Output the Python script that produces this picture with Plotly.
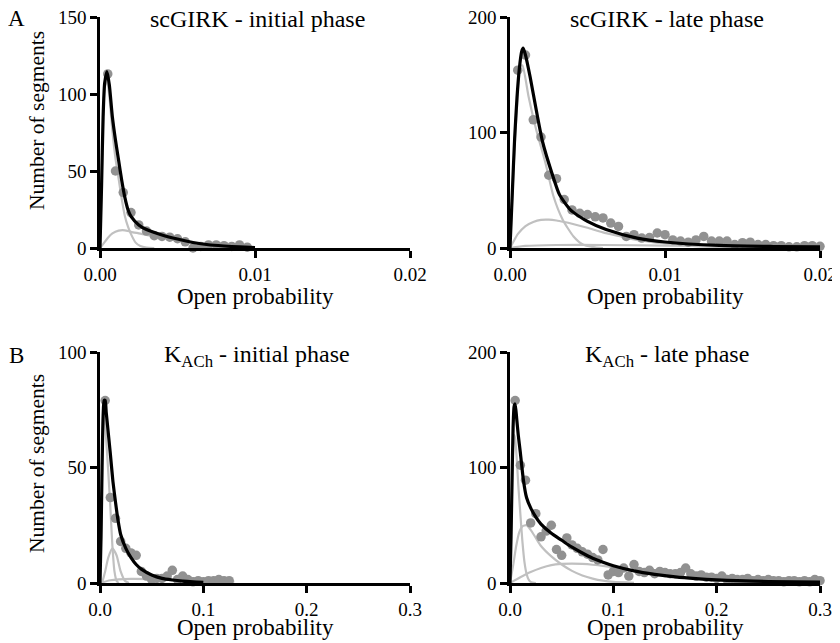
import plotly.graph_objects as go

# ---------------- Data ----------------
# Panel A-left: scGIRK initial phase
a1_x = [0.0005, 0.001, 0.0015, 0.002, 0.0025, 0.003, 0.0035, 0.004, 0.0045, 0.005,
        0.0055, 0.006, 0.0065, 0.007, 0.0075, 0.008, 0.0085, 0.009, 0.0095]
a1_y = [113, 50, 36, 23, 15, 11, 8, 7.5, 7, 6, 4, 0, 1, 2, 2, 1.5, 1, 2, 0.5]
a1_fit_x = [0, 0.0001, 0.0002, 0.0003, 0.00045, 0.0006, 0.0008, 0.001, 0.0012, 0.0014,
            0.0016, 0.0018, 0.002, 0.0025, 0.003, 0.004, 0.005, 0.006, 0.007, 0.008, 0.009, 0.01]
a1_fit_y = [0, 40, 85, 107, 114.5, 106, 85, 70, 57, 44, 33, 25, 20.5, 15, 12, 8.5, 5.8, 3.6, 2.1, 1.3, 0.7, 0.3]
a1_c1_x = [0, 0.0001, 0.0002, 0.0003, 0.00045, 0.0006, 0.0008, 0.001, 0.0012, 0.0014,
           0.0016, 0.0018, 0.002, 0.0023, 0.0026, 0.003, 0.0035]
a1_c1_y = [0, 40, 83, 104, 109, 99, 76, 58, 45, 32, 21, 14, 9, 3.5, 1.3, 0.3, 0]
a1_c2_x = [0, 0.0002, 0.0005, 0.0008, 0.0012, 0.0016, 0.002, 0.0025, 0.003, 0.004,
           0.005, 0.006, 0.007, 0.008, 0.009, 0.01]
a1_c2_y = [0, 2.5, 6.5, 9.5, 11.3, 11.5, 10.5, 9.5, 8.5, 7, 5, 3.5, 2, 1.2, 0.6, 0.3]

# Panel A-right: scGIRK late phase
a2_x = [0.0005, 0.001, 0.0015, 0.002, 0.0025, 0.003, 0.0035, 0.004, 0.0045, 0.005,
        0.0055, 0.006, 0.0065, 0.007, 0.0075, 0.008, 0.0085, 0.009, 0.0095, 0.01,
        0.0105, 0.011, 0.0115, 0.012, 0.0125, 0.013, 0.0135, 0.014, 0.0145, 0.015,
        0.0155, 0.016, 0.0165, 0.017, 0.0175, 0.018, 0.0185, 0.019, 0.0195, 0.02]
a2_y = [154, 167, 111, 96, 63, 60, 42, 33, 30, 29,
        27, 26, 21.6, 18.7, 10, 11.5, 8.6, 9, 13, 11.5,
        7, 6, 5, 7, 10, 6, 6, 6, 3, 4.6,
        5, 3, 3, 2, 2, 1, 1, 2, 2, 1.5]
a2_fit_x = [0, 0.00015, 0.0003, 0.00045, 0.0006, 0.00075, 0.00085, 0.001, 0.0013, 0.0017,
            0.0021, 0.0027, 0.0032, 0.0039, 0.005, 0.0062, 0.0082, 0.01, 0.0135, 0.017, 0.02]
a2_fit_y = [0, 48, 95, 130, 155, 170, 173, 167, 148, 119, 92, 65, 46, 33, 23, 16, 8.6, 5.2, 2.2, 1.3, 0.9]
a2_c1_x = [0, 0.00015, 0.0003, 0.00045, 0.00065, 0.0008, 0.0012, 0.0017, 0.0023, 0.0028,
           0.0034, 0.0041, 0.0047, 0.0055, 0.006]
a2_c1_y = [0, 45, 88, 122, 157, 158, 131, 102, 73, 45, 24.5, 10, 3, 0.5, 0]
a2_c2_x = [0, 0.0002, 0.0005, 0.001, 0.0015, 0.002, 0.0025, 0.003, 0.0035, 0.004,
           0.005, 0.006, 0.007, 0.008, 0.009, 0.01, 0.012, 0.014, 0.016, 0.02]
a2_c2_y = [0, 5, 12, 19, 22.5, 24.3, 24.5, 23.8, 22.5, 21, 17.5, 13.5, 10.5, 7.5, 5.5, 3.8, 1.6, 0.7, 0.3, 0.1]
a2_c3_x = [0, 0.001, 0.003, 0.006, 0.01, 0.015, 0.02]
a2_c3_y = [0, 1.8, 2.6, 2.6, 2.1, 1.4, 0.9]

# Panel B-left: KACh initial phase
b1_x = [0.005, 0.01, 0.015, 0.02, 0.025, 0.03, 0.035, 0.04, 0.045, 0.05,
        0.055, 0.06, 0.065, 0.07, 0.075, 0.08, 0.085, 0.09, 0.095, 0.1,
        0.105, 0.11, 0.115, 0.12, 0.125]
b1_y = [79, 37, 28, 18, 15, 13, 12, 5, 3, 1.5,
        2, 2, 3, 5.5, 1.5, 3, 1.5, 0.5, 1, 0.5,
        1, 1, 1.5, 1, 1]
b1_fit_x = [0, 0.001, 0.002, 0.003, 0.004, 0.005, 0.006, 0.008, 0.01, 0.0125, 0.015,
            0.0175, 0.02, 0.025, 0.03, 0.035, 0.04, 0.05, 0.06, 0.07, 0.08, 0.09, 0.1]
b1_fit_y = [0, 20, 50, 72, 79, 79, 74, 65, 56, 44, 35, 27, 21, 15, 11, 8, 6, 3.5, 2, 1.3, 0.8, 0.5, 0.3]
b1_c1_x = [0, 0.001, 0.002, 0.003, 0.004, 0.005, 0.006, 0.008, 0.01, 0.012, 0.014, 0.016, 0.018]
b1_c1_y = [0, 20, 48, 68, 74, 70, 62, 48, 33, 16, 5, 1, 0]
b1_c2_x = [0.002, 0.005, 0.008, 0.012, 0.016, 0.02, 0.024, 0.028]
b1_c2_y = [0, 5, 11, 15, 12, 5, 1, 0]
b1_c3_x = [0, 0.01, 0.03, 0.06, 0.1, 0.13]
b1_c3_y = [0, 1.2, 1.8, 1.6, 1.0, 0.6]

# Panel B-right: KACh late phase
b2_x = [0.005, 0.01, 0.015, 0.02, 0.025, 0.03, 0.035, 0.04, 0.045, 0.05,
        0.055, 0.06, 0.065, 0.07, 0.075, 0.08, 0.085, 0.09, 0.095, 0.1,
        0.105, 0.11, 0.115, 0.12, 0.125, 0.13, 0.135, 0.14, 0.145, 0.15,
        0.155, 0.16, 0.165, 0.17, 0.175, 0.18, 0.185, 0.19, 0.195, 0.2,
        0.205, 0.21, 0.215, 0.22, 0.225, 0.23, 0.235, 0.24, 0.245, 0.25,
        0.255, 0.26, 0.265, 0.27, 0.275, 0.28, 0.285, 0.29, 0.295, 0.3]
b2_y = [158, 102, 89, 52, 60, 40, 45, 50, 29, 24,
        39, 33, 30, 27, 25, 22, 20, 29, 7, 10,
        9, 13, 6, 16, 10, 9, 11, 8, 10, 9,
        8, 8, 9, 13, 8, 6, 7, 5, 5, 4,
        6, 3, 4, 3, 3, 4, 2, 3, 2, 3,
        2, 2, 1, 2, 2, 1, 2, 1, 3, 2]
b2_fit_x = [0, 0.001, 0.002, 0.003, 0.004, 0.005, 0.0065, 0.008, 0.01, 0.013, 0.016, 0.02,
            0.025, 0.03, 0.04, 0.05, 0.06, 0.07, 0.08, 0.09, 0.1, 0.12, 0.14, 0.16, 0.18,
            0.2, 0.22, 0.25, 0.3]
b2_fit_y = [0, 40, 90, 135, 153, 155, 142, 128, 113, 89, 74, 65,
            57, 51, 43, 37, 31, 26, 21.5, 18, 15, 10.5, 7.5, 5.3, 3.8,
            2.7, 2, 1.3, 0.8]
b2_c1_x = [0, 0.001, 0.002, 0.003, 0.004, 0.005, 0.0065, 0.008, 0.01, 0.012, 0.014, 0.016,
           0.018, 0.02, 0.025]
b2_c1_y = [0, 36, 80, 115, 128, 125, 108, 85, 60, 36, 18, 8, 3, 1, 0]
b2_c2_x = [0, 0.003, 0.006, 0.009, 0.012, 0.016, 0.02, 0.025, 0.03, 0.04, 0.05, 0.06,
           0.07, 0.08, 0.09, 0.1, 0.12]
b2_c2_y = [0, 15, 32, 44, 49, 50, 46, 39, 32, 23, 16, 10.5, 6.5, 3.8, 2, 1, 0.2]
b2_c3_x = [0, 0.01, 0.02, 0.03, 0.04, 0.05, 0.06, 0.07, 0.08, 0.09, 0.1, 0.12, 0.14,
           0.16, 0.18, 0.2, 0.22, 0.25, 0.3]
b2_c3_y = [0, 5, 9.5, 13, 15.5, 16.5, 16.8, 16.5, 15.8, 14.8, 13.5, 10.5, 7.8,
           5.5, 3.8, 2.6, 1.8, 1, 0.4]

titles = ["scGIRK - initial phase", "scGIRK - late phase",
          "K<sub>ACh</sub> - initial phase", "K<sub>ACh</sub> - late phase"]

# ---------------- Styling ----------------
W, H = 840, 643
OFF = 8  # page body margin in the browser
FONT = "Liberation Serif"
DOT = "rgb(145,145,145)"
COMP = "rgb(192,192,192)"

def px(x):
    return (x - OFF) / W

def py(y):
    return 1 - (y - OFF) / H

xdom_l = [px(100), px(410)]
xdom_r = [px(510), px(820)]
ydom_t = [py(248), py(17)]
ydom_b = [py(583), py(352)]

panels = [
    dict(dots=(a1_x, a1_y), fit=(a1_fit_x, a1_fit_y),
         comps=[(a1_c1_x, a1_c1_y), (a1_c2_x, a1_c2_y)],
         xdom=xdom_l, ydom=ydom_t, xr=[0, 0.02], yr=[0, 150],
         xt=[0, 0.01, 0.02], xfmt=".2f", yt=[0, 50, 100, 150]),
    dict(dots=(a2_x, a2_y), fit=(a2_fit_x, a2_fit_y),
         comps=[(a2_c1_x, a2_c1_y), (a2_c2_x, a2_c2_y), (a2_c3_x, a2_c3_y)],
         xdom=xdom_r, ydom=ydom_t, xr=[0, 0.02], yr=[0, 200],
         xt=[0, 0.01, 0.02], xfmt=".2f", yt=[0, 100, 200]),
    dict(dots=(b1_x, b1_y), fit=(b1_fit_x, b1_fit_y),
         comps=[(b1_c1_x, b1_c1_y), (b1_c2_x, b1_c2_y), (b1_c3_x, b1_c3_y)],
         xdom=xdom_l, ydom=ydom_b, xr=[0, 0.3], yr=[0, 100],
         xt=[0, 0.1, 0.2, 0.3], xfmt=".1f", yt=[0, 50, 100]),
    dict(dots=(b2_x, b2_y), fit=(b2_fit_x, b2_fit_y),
         comps=[(b2_c1_x, b2_c1_y), (b2_c2_x, b2_c2_y), (b2_c3_x, b2_c3_y)],
         xdom=xdom_r, ydom=ydom_b, xr=[0, 0.3], yr=[0, 200],
         xt=[0, 0.1, 0.2, 0.3], xfmt=".1f", yt=[0, 100, 200]),
]

fig = go.Figure()
layout = dict(
    template="none",
    width=W, height=H, autosize=False,
    margin=dict(l=0, r=0, t=0, b=0, pad=0),
    paper_bgcolor="white", plot_bgcolor="white",
    showlegend=False,
    font=dict(family=FONT, color="black", size=19),
)

axis_common = dict(
    automargin=False, ticklabeloverflow="allow",
    showgrid=False, zeroline=False, showline=True, linecolor="black",
    linewidth=2.5, ticks="outside", ticklen=7, tickwidth=2.5, tickcolor="black",
    tickfont=dict(family=FONT, size=19, color="black"),
)

annotations = []
for i, p in enumerate(panels):
    n = "" if i == 0 else str(i + 1)
    xa, ya = "x" + n, "y" + n
    for cx, cy in p["comps"]:
        fig.add_trace(go.Scatter(x=cx, y=cy, xaxis=xa, yaxis=ya, mode="lines",
                                 line=dict(color=COMP, width=2.2, shape="spline", smoothing=0.6),
                                 cliponaxis=False, hoverinfo="skip"))
    dx, dy = p["dots"]
    fig.add_trace(go.Scatter(x=dx, y=dy, xaxis=xa, yaxis=ya, mode="markers",
                             marker=dict(color=DOT, size=9.5, line=dict(width=0)),
                             cliponaxis=False))
    fx, fy = p["fit"]
    fig.add_trace(go.Scatter(x=fx, y=fy, xaxis=xa, yaxis=ya, mode="lines",
                             line=dict(color="black", width=3.2, shape="spline", smoothing=0.6),
                             cliponaxis=False, hoverinfo="skip"))
    layout["xaxis" + n] = dict(axis_common, domain=p["xdom"], range=p["xr"], tickvals=p["xt"],
                               tickformat=p["xfmt"], anchor=ya)
    layout["yaxis" + n] = dict(axis_common, domain=p["ydom"], range=p["yr"], tickvals=p["yt"],
                               anchor=xa)
    # panel title
    cx = (p["xdom"][0] + p["xdom"][1]) / 2
    ty = py(19) if i < 2 else py(356)
    annotations.append(dict(text=titles[i], x=cx + 2 / W, y=ty, xref="paper", yref="paper",
                            showarrow=False, xanchor="center", yanchor="middle",
                            font=dict(family=FONT, size=24, color="black")))
    # x-axis title
    xy = py(296) if i < 2 else py(627)
    annotations.append(dict(text="Open probability", x=cx, y=xy, xref="paper", yref="paper",
                            showarrow=False, xanchor="center", yanchor="middle",
                            font=dict(family=FONT, size=23, color="black")))

# y-axis titles
for yy in (py(121), py(464)):
    annotations.append(dict(text="Number of segments", x=px(37), y=yy, xref="paper", yref="paper",
                            showarrow=False, xanchor="center", yanchor="middle", textangle=-90,
                            font=dict(family=FONT, size=21.5, color="black")))
# panel letters
for letter, yy in (("A", py(18)), ("B", py(355))):
    annotations.append(dict(text=letter, x=px(16), y=yy, xref="paper", yref="paper",
                            showarrow=False, xanchor="center", yanchor="middle",
                            font=dict(family=FONT, size=23, color="black")))

layout["annotations"] = annotations
fig.update_layout(**layout)
fig.write_html("out.html")
